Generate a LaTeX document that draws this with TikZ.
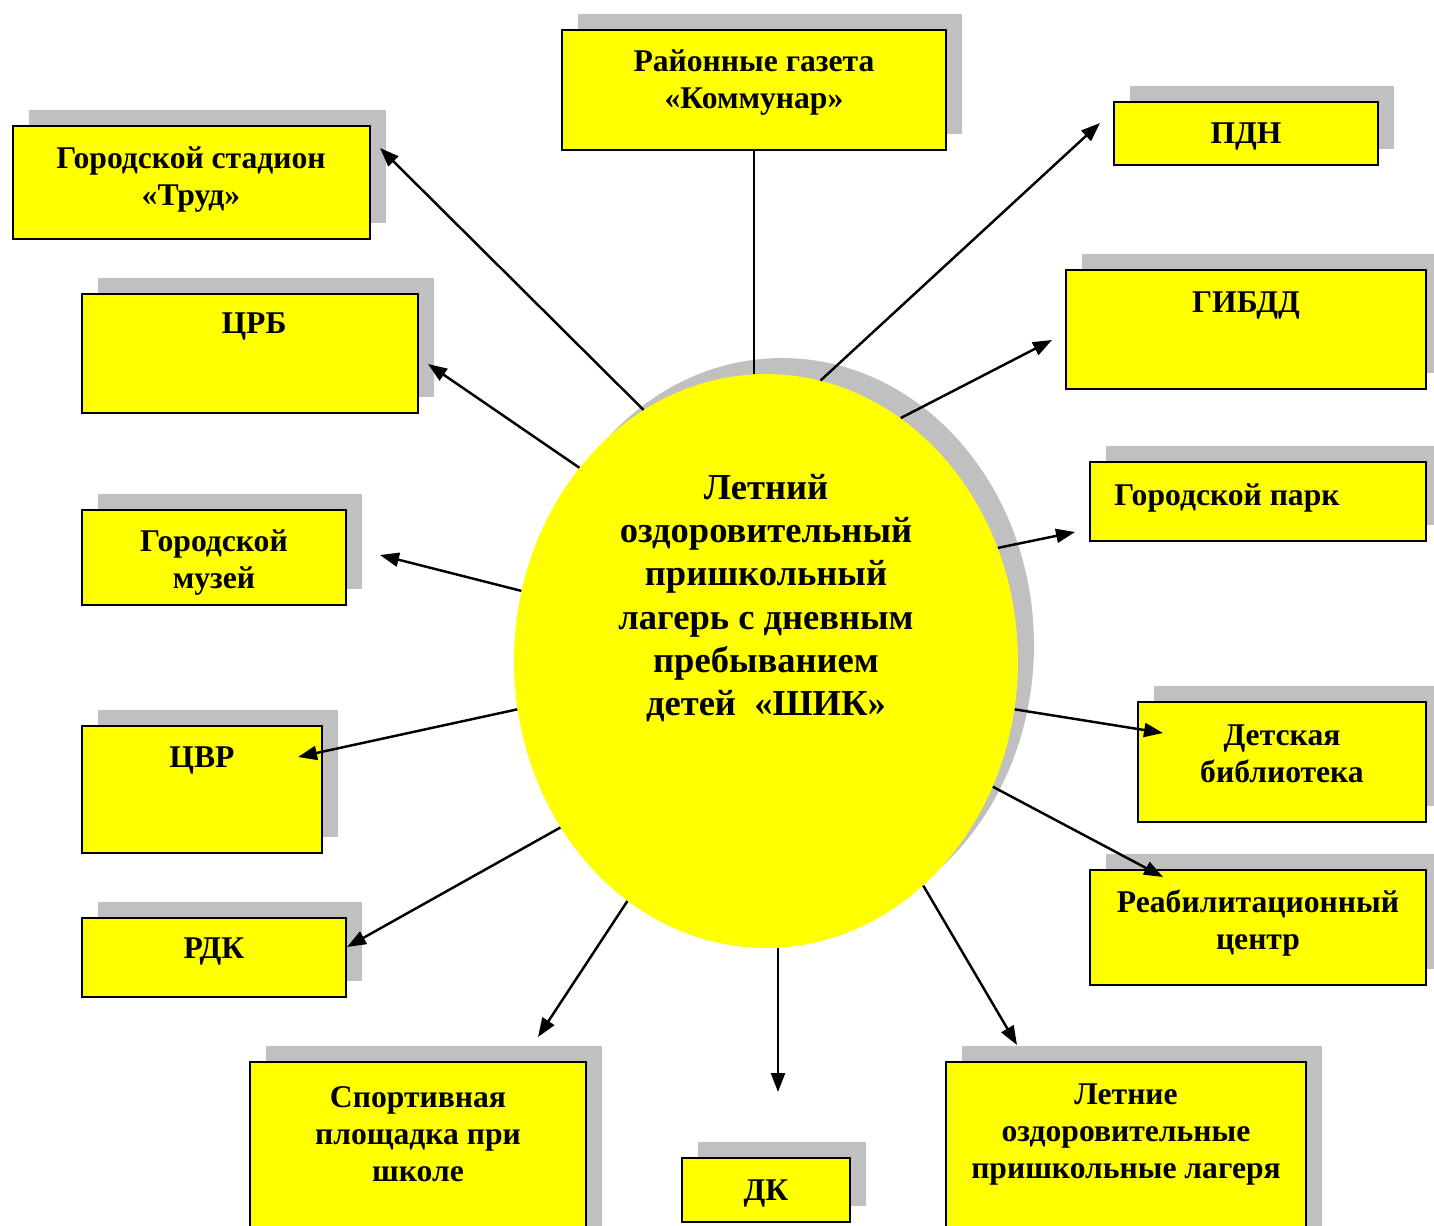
\documentclass[tikz,border=0pt]{standalone}
\usepackage{fontspec}
\setmainfont{Liberation Serif}
\usetikzlibrary{arrows.meta,shapes.geometric,fit}
\definecolor{shik}{RGB}{255,255,0}
\definecolor{shade}{RGB}{192,192,192}
\tikzset{
  box/.style={draw=black, line width=1.1pt, fill=shik, inner sep=0pt},
  shadowbox/.style={fill=shade},
  lbl/.style={align=center, font=\fontsize{18}{21}\selectfont\bfseries, inner sep=0pt, yshift=-1.8pt},
  link/.style={line width=1.4pt, -{Triangle[length=0.38cm,width=0.28cm]}},
  plainlink/.style={line width=1.4pt},
  oval/.style={ellipse, minimum width=10.08cm, minimum height=11.48cm, inner sep=0pt},
}
\newcommand\orgbox[8]{%
  \fill[shadowbox] (#2+16,#3-16) rectangle (#4+16,#5-16);
  \node[box, fit={(#2,#3) (#4,#5)}] (#1) {};
  \node[lbl] (#1t) at (#6,#7) {#8};
}
\begin{document}
\begin{tikzpicture}[x=0.02cm, y=-0.02cm]
\useasboundingbox (0,0) rectangle (1434,1225);
\clip (0,0) rectangle (1434,1225);

\orgbox{gaz}{562}{30}{946}{150}{754}{79}{Районные газета\\«Коммунар»}
\orgbox{stad}{13}{126}{370}{239}{191}{176}{Городской стадион\\«Труд»}
\orgbox{crb}{82}{294}{418}{413}{254}{323}{ЦРБ}
\orgbox{muz}{82}{510}{346}{605}{214}{559}{Городской\\музей}
\orgbox{cvr}{82}{726}{322}{853}{202}{757}{ЦВР}
\orgbox{rdk}{82}{918}{346}{997}{214}{948}{РДК}
\orgbox{sport}{250}{1062}{586}{1245}{418}{1131}{Спортивная\\площадка при\\школе}
\orgbox{dk}{682}{1158}{850}{1222}{766}{1190}{ДК}
\orgbox{let}{946}{1062}{1306}{1245}{1126}{1131}{Летние\\оздоровительные\\пришкольные лагеря}
\orgbox{reab}{1090}{870}{1426}{985}{1258}{920}{Реабилитационный\\центр}
\orgbox{bib}{1138}{702}{1426}{822}{1282}{751}{Детская\\библиотека}
\orgbox{park}{1090}{462}{1426}{541}{1227}{495}{Городской парк}
\orgbox{gibdd}{1066}{270}{1426}{389}{1246}{302}{ГИБДД}
\orgbox{pdn}{1114}{102}{1378}{165}{1246}{133}{ПДН}

\node[oval, fill=shade] (Es) at (782,645) {};
\node[oval, fill=shik] (E) at (766,661) {};
\node[align=center, inner sep=0pt, font=\fontsize{20.8}{24.6}\selectfont\bfseries] (Et) at (766,598)
  {Летний\\оздоровительный\\пришкольный\\лагерь с дневным\\пребыванием\\детей\ \ «ШИК»};

\coordinate (tStad) at (380,148);
\coordinate (tCrb) at (428,364);
\coordinate (tMuz) at (380,555);
\coordinate (tCvr) at (298,757);
\coordinate (tRdk) at (347,947);
\coordinate (tSport) at (538,1037);
\coordinate (tDk) at (778,1092);
\coordinate (tLet) at (1017,1045);
\coordinate (tReab) at (1163,877);
\coordinate (tBib) at (1163,733);
\coordinate (tPark) at (1075,532);
\coordinate (tGibdd) at (1052,340);
\coordinate (tPdn) at (1100,123);

\draw[plainlink] (gaz.south) -- (gaz.south |- E.north);
\draw[link] (E.116.3) -- (tStad);
\draw[link] (E.134.7) -- (tCrb);
\draw[link] (E.164.9) -- (tMuz);
\draw[link] (E.191.0) -- (tCvr);
\draw[link] (E.219.4) -- (tRdk);
\draw[link] (E.240.5) -- (tSport);
\draw[link] (E.south -| tDk) -- (tDk);
\draw[link] (E.305.8) -- (tLet);
\draw[link] (E.331.9) -- (tReab);
\draw[link] (E.349.0) -- (tBib);
\draw[link] (E.26.3) -- (tPark);
\draw[link] (E.61.6) -- (tGibdd);
\draw[link] (E.79.1) -- (tPdn);
\end{tikzpicture}
\end{document}
